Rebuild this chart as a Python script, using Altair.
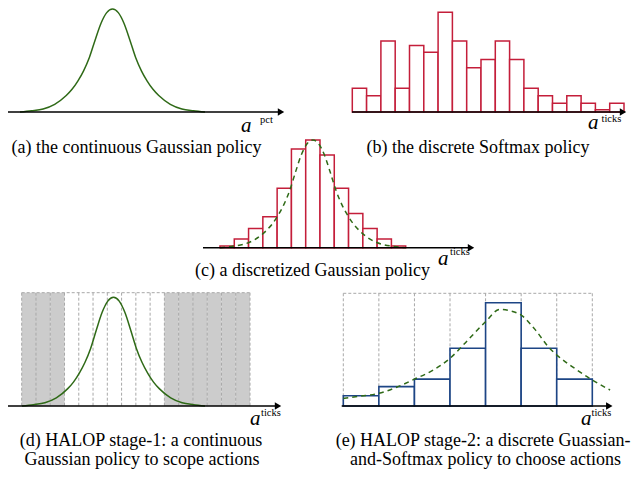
import altair as alt
import pandas as pd

# ---------------- data ----------------
# Bell curve used in panels (a), (c), (d): x in std-dev units, relative height
G_X = [-4, -3.5, -3, -2.5, -2, -1.75, -1.5, -1.25, -1, -0.75, -0.5, -0.25, 0,
       0.25, 0.5, 0.75, 1, 1.25, 1.5, 1.75, 2, 2.5, 3, 3.5, 4]
G_Y = [0.0, 0.012, 0.03, 0.075, 0.16, 0.22, 0.30, 0.40, 0.53, 0.70, 0.86, 0.965, 1.0,
       0.965, 0.86, 0.70, 0.53, 0.40, 0.30, 0.22, 0.16, 0.075, 0.03, 0.012, 0.0]

# (b) discrete softmax policy, 19 actions
B_PROBS = [0.032, 0.022, 0.096, 0.032, 0.090, 0.081, 0.135, 0.096, 0.060, 0.071,
           0.096, 0.071, 0.032, 0.022, 0.012, 0.022, 0.012, 0.003, 0.012]

# (c) discretized Gaussian, 13 actions (relative height, peak = 1)
C_PROBS = [0.016, 0.081, 0.179, 0.288, 0.551, 0.916, 1.0, 0.861, 0.551, 0.318, 0.179, 0.081, 0.016]

# (d) 16 action ticks, 1 = masked (grey)
D_MASK = [1, 1, 1, 0, 0, 0, 0, 0, 0, 0, 1, 1, 1, 1, 1, 1]

# (e) 7 scoped actions
E_PROBS = [0.034, 0.064, 0.089, 0.191, 0.342, 0.191, 0.089]
E_CURVE_X = [0, 0.5, 1, 1.5, 2, 2.5, 3, 3.5, 4, 4.4, 4.7, 5, 5.4, 5.8, 6, 6.5, 7, 7.5]
E_CURVE_Y = [0.025, 0.033, 0.042, 0.062, 0.089, 0.117, 0.158, 0.218, 0.279, 0.320, 0.315,
             0.301, 0.252, 0.191, 0.169, 0.125, 0.086, 0.053]

CAPTIONS = {
    "a": ["(a) the continuous Gaussian policy"],
    "b": ["(b) the discrete Softmax policy"],
    "c": ["(c) a discretized Gaussian policy"],
    "d": ["(d) HALOP stage-1: a continuous", "Gaussian policy to scope actions"],
    "e": ["(e) HALOP stage-2: a discrete Guassian-", "and-Softmax policy to choose actions"],
}

# ---------------- styles ----------------
GREEN = "#2f6a17"
RED = "#c41e3a"
BLUE = "#1d4585"
GREY = "#cccccc"
DASH_GREY = "#a8a8a8"
FONT = "Liberation Serif"
W, H = 623, 461

gauss = pd.DataFrame({"x": G_X, "y": G_Y})


def bars_df(vals):
    return pd.DataFrame({"i": list(range(len(vals))), "i1": [k + 1 for k in range(len(vals))],
                         "p": vals, "z": [0] * len(vals)})


def sx(domain, rng):
    return alt.Scale(domain=domain, range=rng, nice=False, zero=False)


def curve(df, xs, ys, dash=None):
    kw = dict(color=GREEN, strokeWidth=1.5, interpolate="monotone")
    if dash:
        kw["strokeDash"] = dash
    return alt.Chart(df).mark_line(**kw).encode(
        x=alt.X("x:Q", scale=xs, axis=None),
        y=alt.Y("y:Q", scale=ys, axis=None),
    )


def bars(df, xs, ys, color, sw=1.5):
    return alt.Chart(df).mark_rect(fill="white", stroke=color, strokeWidth=sw).encode(
        x=alt.X("i:Q", scale=xs, axis=None), x2="i1:Q",
        y=alt.Y("p:Q", scale=ys, axis=None), y2="z:Q",
    )


def arrow(x0, x1, y):
    line = alt.Chart().mark_rule(color="black", strokeWidth=1.5).encode(
        x=alt.value(x0), x2=alt.value(x1 - 6), y=alt.value(y))
    head = alt.Chart().mark_point(shape="triangle-right", filled=True, color="black",
                                  opacity=1, size=55).encode(
        x=alt.value(x1 - 4), y=alt.value(y))
    return [line, head]


def label(x, y, sup, sx_, sy_):
    a = alt.Chart().mark_text(text="a", font=FONT, fontStyle="italic", fontSize=21,
                              align="left", baseline="alphabetic", color="black").encode(
        x=alt.value(x), y=alt.value(y))
    s = alt.Chart().mark_text(text=sup, font=FONT, fontSize=10.5, align="left",
                              baseline="alphabetic", color="black").encode(
        x=alt.value(sx_), y=alt.value(sy_))
    return [a, s]


def caption(x, y, txt, size=18):
    return alt.Chart().mark_text(text=txt, font=FONT, fontSize=size, align="center",
                                 baseline="alphabetic", color="black").encode(
        x=alt.value(x), y=alt.value(y))


layers = []

# ---- (a) ----
layers.append(curve(gauss, sx([-4, 4], [12, 197]), sx([0, 1], [104, 1])))
layers += arrow(0, 277, 104)
layers += label(233, 124, "pct", 252, 115)
layers.append(caption(128.5, 145, CAPTIONS["a"][0]))

# ---- (b) ----
layers.append(bars(bars_df(B_PROBS), sx([0, 19], [344.3, 616]), sx([0, 0.135], [104, 4.3]), RED))
layers += arrow(344, 619, 104)
layers += label(580, 121, "ticks", 593.5, 114)
layers.append(caption(470, 145, CAPTIONS["b"][0]))

# ---- (c) ----
layers.append(bars(bars_df(C_PROBS), sx([0, 13], [212, 397.7]), sx([0, 1], [239.7, 132]), RED))
layers.append(curve(gauss, sx([-4, 4], [212, 397.7]), sx([0, 1], [239.7, 132]), dash=[5, 4]))
layers += arrow(195, 467, 239.7)
layers.append(caption(304.5, 268, CAPTIONS["c"][0]))
layers += label(430, 257, "ticks", 442, 247)

# ---- (d) ----
dmask = pd.DataFrame({"i": list(range(len(D_MASK))), "i1": [k + 1 for k in range(len(D_MASK))], "m": D_MASK})
dx = sx([0, len(D_MASK)], [13.7, 242])
layers.append(alt.Chart(dmask).transform_filter("datum.m == 1").mark_rect(fill=GREY).encode(
    x=alt.X("i:Q", scale=dx, axis=None), x2="i1:Q", y=alt.value(284.7), y2=alt.value(398)))
dedges = pd.DataFrame({"e": list(range(len(D_MASK) + 1))})
layers.append(alt.Chart(dedges).mark_rule(color=DASH_GREY, strokeDash=[3, 2], strokeWidth=1).encode(
    x=alt.X("e:Q", scale=dx, axis=None), y=alt.value(284.7), y2=alt.value(398)))
layers.append(alt.Chart().mark_rule(color=DASH_GREY, strokeDash=[3, 2], strokeWidth=1).encode(
    x=alt.value(13.7), x2=alt.value(242), y=alt.value(284.7)))
layers.append(curve(gauss, sx([-4, 4], [14, 197]), sx([0, 1], [398, 289.3])))
layers += arrow(0, 274, 398)
layers += label(242, 417, "ticks", 253, 407.5)
layers.append(caption(133, 437.5, CAPTIONS["d"][0]))
layers.append(caption(134, 457, CAPTIONS["d"][1]))

# ---- (e) ----
ex = sx([0, len(E_PROBS)], [335.3, 584.3])
ey = sx([0, 0.342], [398, 294.7])
eedges = pd.DataFrame({"e": list(range(len(E_PROBS) + 1))})
layers.append(alt.Chart(eedges).mark_rule(color=DASH_GREY, strokeDash=[3, 2], strokeWidth=1).encode(
    x=alt.X("e:Q", scale=ex, axis=None), y=alt.value(285.3), y2=alt.value(398)))
layers.append(alt.Chart().mark_rule(color=DASH_GREY, strokeDash=[3, 2], strokeWidth=1).encode(
    x=alt.value(335.3), x2=alt.value(584.3), y=alt.value(285.3)))
layers.append(bars(bars_df(E_PROBS), ex, ey, BLUE, sw=1.6))
layers.append(curve(pd.DataFrame({"x": E_CURVE_X, "y": E_CURVE_Y}), ex, ey, dash=[5, 4]))
layers += arrow(333.7, 605.3, 398)
layers += label(573, 417, "ticks", 583.5, 407.5)
layers.append(caption(475, 437.5, CAPTIONS["e"][0]))
layers.append(caption(477.5, 457, CAPTIONS["e"][1]))

chart = alt.layer(*layers, data=pd.DataFrame({"_": [0]})).resolve_scale(
    x="independent", y="independent"
).properties(
    width=W, height=H, padding=0, autosize=alt.AutoSizeParams(type="none")
).configure_view(stroke=None)

chart.save("out.html", embed_options={"renderer": "svg", "actions": False})
